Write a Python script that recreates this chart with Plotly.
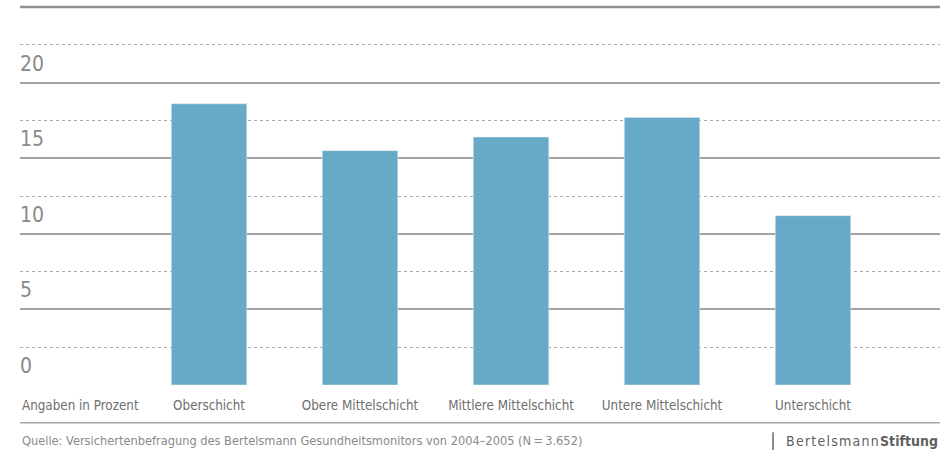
import plotly.graph_objects as go

# Anteil je Sozialschicht (Angaben in Prozent)
categories = ["Oberschicht", "Obere Mittelschicht", "Mittlere Mittelschicht",
              "Untere Mittelschicht", "Unterschicht"]
values = [18.6, 15.5, 16.4, 17.7, 11.2]
y_ticks = [0, 5, 10, 15, 20]

FONT = "DejaVu Sans Condensed, Liberation Sans Narrow, Arial Narrow, sans-serif"
xpos = list(range(len(categories)))

fig = go.Figure(go.Bar(
    x=xpos,
    y=values,
    marker_color="#67aac8",
    width=0.5,
    hoverinfo="skip",
))

fig.update_layout(
    width=950, height=454,
    margin=dict(l=20, r=10, t=7, b=69),
    plot_bgcolor="white", paper_bgcolor="white",
    showlegend=False,
    font=dict(family=FONT, color="#7a7a7a"),
)

fig.update_xaxes(
    range=[-1.252, 4.841],
    tickvals=xpos, ticktext=categories,
    tickfont=dict(size=13.3, color="#6f6f6f"),
    showgrid=False, zeroline=False, showline=False, ticks="",
    ticklabelstandoff=11,
)

fig.update_yaxes(
    range=[0, 25],
    tickvals=[0, 5, 10, 15, 20],
    showticklabels=False,
    showgrid=True, gridcolor="#a3a3a3", gridwidth=2,
    zeroline=False, showline=False,
    minor=dict(dtick=2.5, showgrid=True, gridcolor="#a8a8a8",
               griddash="dot", gridwidth=1),
)

# y labels sitting just above the solid grid lines
for t in y_ticks:
    fig.add_annotation(x=0, xref="paper", y=t, yref="y", text=str(t),
                       showarrow=False, xanchor="left", yanchor="bottom",
                       yshift=5, xshift=-2, font=dict(size=21, color="#8a8a8a"))

# darker top line
fig.add_shape(type="line", xref="paper", yref="paper", x0=0, x1=1, y0=1, y1=1,
              line=dict(color="#8f8f8f", width=2.5))

fig.add_annotation(x=0, xref="paper", y=-0.053, yref="paper",
                   text="Angaben in Prozent", showarrow=False,
                   xanchor="left", yanchor="middle",
                   font=dict(size=13.3, color="#6f6f6f"))

# separator under the category labels
fig.add_shape(type="line", xref="paper", yref="paper", x0=0, x1=1,
              y0=-0.10, y1=-0.10, line=dict(color="#a8a8a8", width=1.5))

fig.add_annotation(x=0, xref="paper", y=-0.146, yref="paper",
                   text="Quelle: Versichertenbefragung des Bertelsmann Gesundheitsmonitors von 2004\u20132005 (N\u2009=\u20093.652)",
                   showarrow=False, xanchor="left", yanchor="middle",
                   font=dict(size=12.7, color="#8a8a8a"))

hs = "\u200a"
logo = hs.join("Bertelsmann") + hs + "<b>" + "Stiftung" + "</b>"
fig.add_shape(type="line", xref="paper", yref="paper", x0=0.8185, x1=0.8185,
              y0=-0.125, y1=-0.172, line=dict(color="#6a6a6a", width=1.5))
fig.add_annotation(x=1.0, xref="paper", y=-0.148, yref="paper",
                   text=logo, showarrow=False, xanchor="right",
                   yanchor="middle", font=dict(size=14, color="#5f5f5f"))

fig.write_html("out.html", config={"displayModeBar": False},
               post_script="document.body.style.margin='0';")
